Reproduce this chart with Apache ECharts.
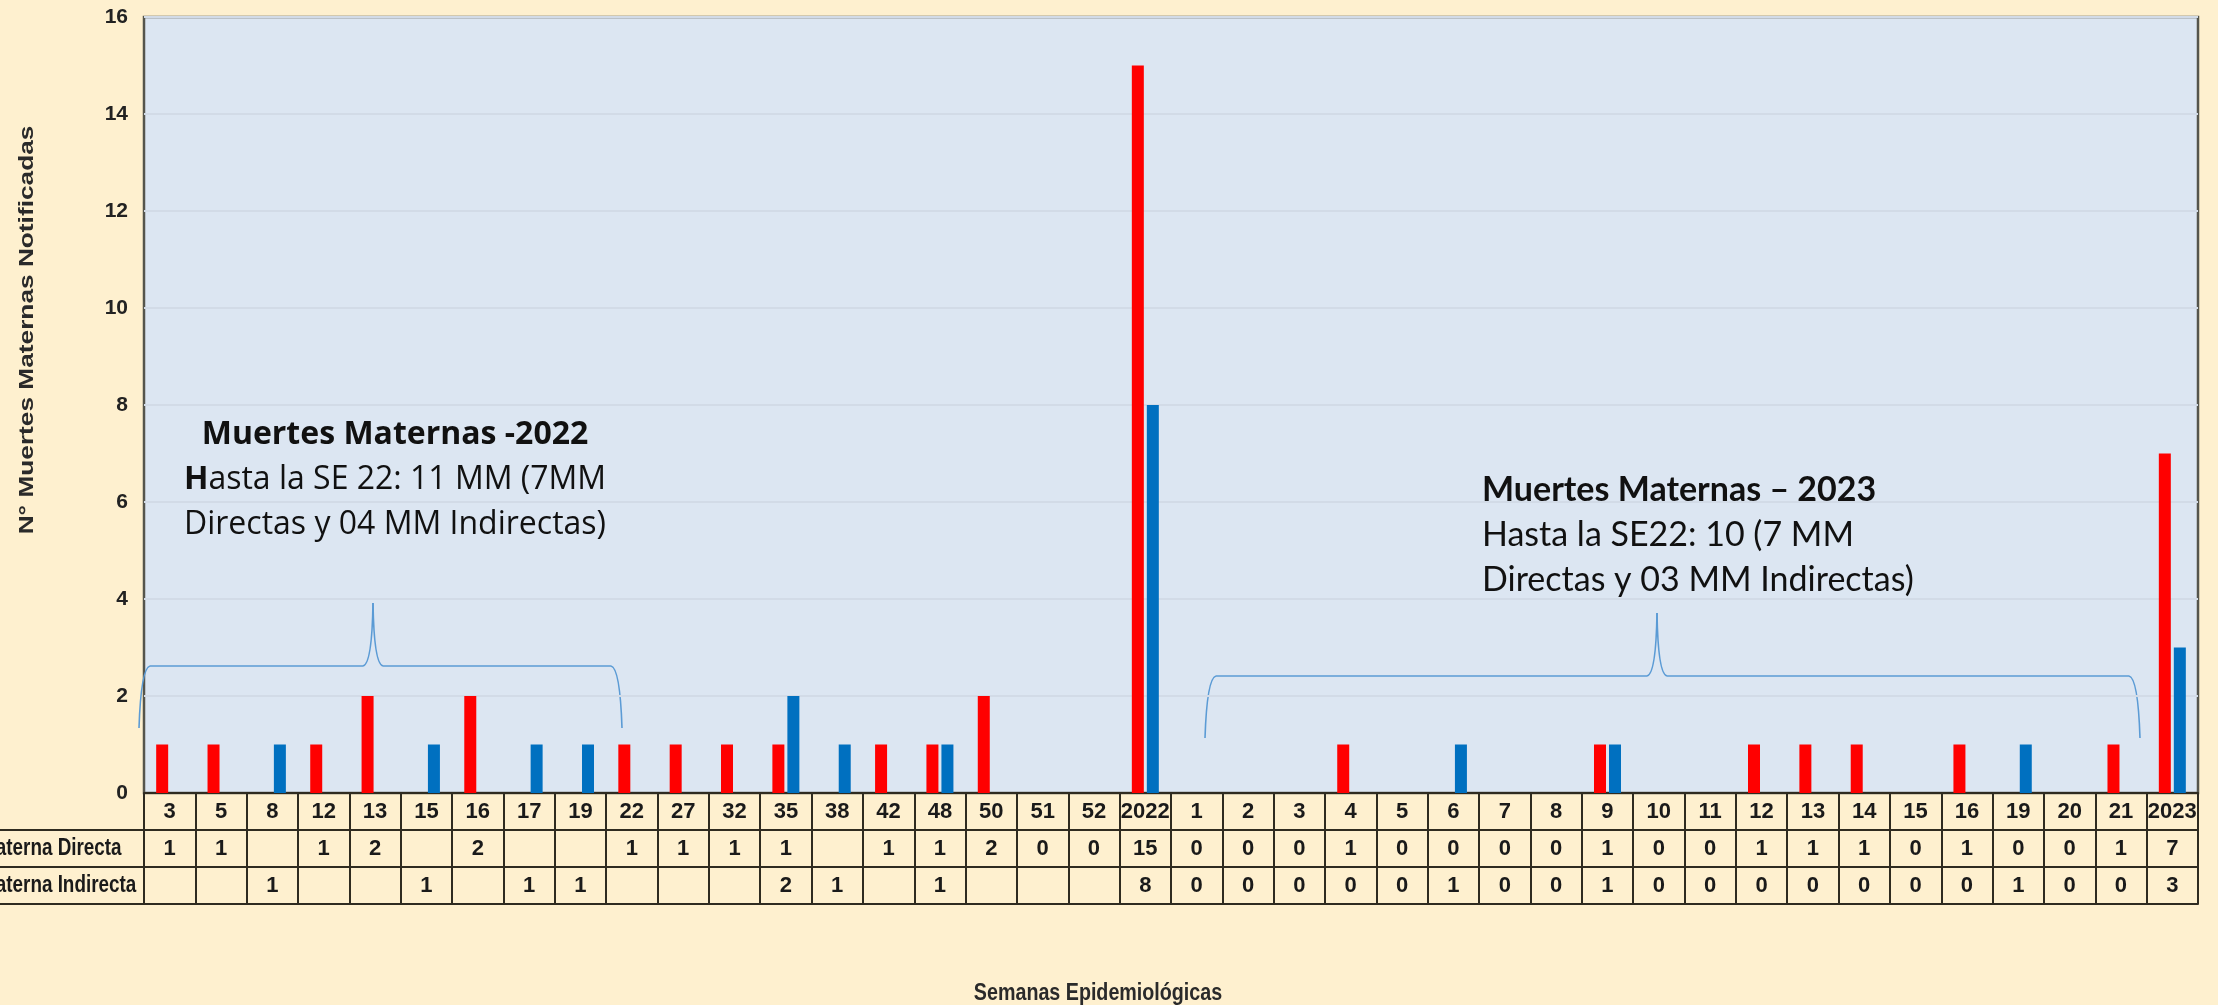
<!DOCTYPE html>
<html>
<head>
<meta charset="utf-8">
<script src="https://cdn.jsdelivr.net/npm/echarts@6/dist/echarts.min.js"></script>
<style>
  html, body { margin: 0; padding: 0; background: #FEF0CF; }
  #main { width: 2218px; height: 1005px; }
</style>
</head>
<body>
<div id="main"></div>
<script>
// semanas epidemiologicas (2022 y 2023)
let semanas = ['3','5','8','12','13','15','16','17','19','22','27','32','35','38','42','48','50','51','52','2022',
               '1','2','3','4','5','6','7','8','9','10','11','12','13','14','15','16','19','20','21','2023'];
// muerte materna directa (null = celda vacia)
let directa = [1,1,null,1,2,null,2,null,null,1,1,1,1,null,1,1,2,0,0,15,
               0,0,0,1,0,0,0,0,1,0,0,1,1,1,0,1,0,0,1,7];
// muerte materna indirecta
let indirecta = [null,null,1,null,null,1,null,1,1,null,null,null,2,1,null,1,null,null,null,8,
                 0,0,0,0,0,1,0,0,1,0,0,0,0,0,0,0,1,0,0,3];
let filas = ['Muerte Materna Directa', 'Muerte Materna Indirecta'];
let ticksY = [0, 2, 4, 6, 8, 10, 12, 14, 16];

const W = 2218, H = 1005;
const gLeft = 144, gRight = 20, gTop = 17, gBottom = 212;
const rowH = 37;
const axisY = H - gBottom;
const lineCol = '#2f2b20';
const arial = "'Liberation Sans', Arial, sans-serif";

function tableAxis(idx, values, showLabel) {
    return {
        type: 'category',
        gridIndex: 0,
        position: 'bottom',
        offset: rowH * idx,
        data: semanas,
        axisLine: { show: true, lineStyle: { color: lineCol, width: 2 } },
        axisTick: { show: showLabel, interval: 0, length: rowH, lineStyle: { color: lineCol, width: 2 } },
        axisLabel: {
            show: showLabel,
            interval: 0,
            margin: rowH / 2,
            verticalAlign: 'middle',
            fontFamily: arial,
            fontWeight: 'bold',
            fontSize: 22,
            color: '#1a1a1a',
            formatter: function (v, i) {
                if (values === null) return v;
                return values[i] === null ? '' : String(values[i]);
            }
        },
        splitLine: { show: false }
    };
}

// llave decorativa hecha de curvas y lineas
function brace(xl, xr, xt, yb, yh, yt) {
    const st = { stroke: '#5B9BD5', lineWidth: 1.6, fill: null };
    return [
        { type: 'bezierCurve', shape: { x1: xl, y1: yb, x2: xl + 11, y2: yh, cpx1: xl + 2, cpy1: yh + 2 }, style: st },
        { type: 'line', shape: { x1: xl + 11, y1: yh, x2: xt - 10, y2: yh }, style: st },
        { type: 'bezierCurve', shape: { x1: xt - 10, y1: yh, x2: xt, y2: yt, cpx1: xt - 1, cpy1: yh - 2 }, style: st },
        { type: 'bezierCurve', shape: { x1: xt, y1: yt, x2: xt + 10, y2: yh, cpx1: xt + 1, cpy1: yh - 2 }, style: st },
        { type: 'line', shape: { x1: xt + 10, y1: yh, x2: xr - 11, y2: yh }, style: st },
        { type: 'bezierCurve', shape: { x1: xr - 11, y1: yh, x2: xr, y2: yb, cpx1: xr - 2, cpy1: yh + 2 }, style: st }
    ];
}

let mainchart = echarts.init(document.getElementById('main'));

let graphics = [];
// lineas de filas hacia la izquierda
for (let k = 1; k <= 3; k++) {
    graphics.push({
        type: 'line',
        shape: { x1: 0, y1: axisY + rowH * k, x2: gLeft, y2: axisY + rowH * k },
        style: { stroke: lineCol, lineWidth: 2 }
    });
}
// etiquetas de filas (cortadas por el borde)
filas.forEach(function (f, k) {
    graphics.push({
        type: 'text',
        x: -87,
        y: axisY + rowH * (k + 1) + rowH / 2,
        scaleX: 0.82,
        style: {
            text: f, align: 'left', verticalAlign: 'middle',
            fontFamily: arial, fontWeight: 'bold', fontSize: 23, fill: '#1a1a1a'
        }
    });
});
// titulo eje y
graphics.push({
    type: 'text',
    x: 27, y: 330,
    rotation: Math.PI / 2,
    scaleX: 1.25,
    style: {
        text: 'N° Muertes Maternas Notificadas', align: 'center', verticalAlign: 'middle',
        fontFamily: arial, fontWeight: 'bold', fontSize: 21, fill: '#2a2a2a'
    }
});
// titulo eje x
graphics.push({
    type: 'text',
    x: 1098, y: 993,
    scaleX: 0.82,
    style: {
        text: 'Semanas Epidemiológicas', align: 'center', verticalAlign: 'middle',
        fontFamily: arial, fontWeight: 'bold', fontSize: 24, fill: '#2a2a2a'
    }
});
// anotacion 2022
const f1 = "'Open Sans', 'Noto Sans', sans-serif";
[
    { t: '{b|Muertes Maternas -2022}', y: 435 },
    { t: '{b|H}asta la SE 22: 11 MM (7MM', y: 480 },
    { t: 'Directas y 04 MM Indirectas)', y: 525 }
].forEach(function (l) {
    graphics.push({
        type: 'text', x: 395, y: l.y,
        style: {
            text: l.t, align: 'center', verticalAlign: 'middle',
            fontFamily: f1, fontSize: 32, fill: '#111',
            rich: { b: { fontFamily: f1, fontSize: 32, fontWeight: 'bold', fill: '#111' } }
        }
    });
});
// anotacion 2023
const f2 = "Lato, 'Noto Sans', sans-serif";
[
    { t: '{b|Muertes Maternas – 2023}', y: 490 },
    { t: 'Hasta la SE22: 10 (7 MM', y: 535 },
    { t: 'Directas y 03 MM Indirectas)', y: 580 }
].forEach(function (l) {
    graphics.push({
        type: 'text', x: 1482, y: l.y,
        style: {
            text: l.t, align: 'left', verticalAlign: 'middle',
            fontFamily: f2, fontSize: 34, fill: '#111',
            rich: { b: { fontFamily: f2, fontSize: 34, fontWeight: 'bold', fill: '#111' } }
        }
    });
});
// llaves
graphics = graphics.concat(brace(139, 622, 373, 728, 666, 603));
graphics = graphics.concat(brace(1205, 2140, 1657, 738, 676, 613));

let chart_config = {
    backgroundColor: '#FEF0CF',
    animation: false,
    grid: {
        left: gLeft, right: gRight, top: gTop, bottom: gBottom,
        show: true,
        backgroundColor: '#DCE6F2',
        borderColor: '#55554c',
        borderWidth: 2.5
    },
    xAxis: [
        tableAxis(0, null, true),
        tableAxis(1, directa, true),
        tableAxis(2, indirecta, true),
        tableAxis(3, null, false)
    ],
    yAxis: {
        type: 'value',
        min: ticksY[0],
        max: ticksY[ticksY.length - 1],
        interval: 2,
        axisLine: { show: false },
        axisTick: { show: false },
        axisLabel: {
            margin: 16,
            fontFamily: arial,
            fontWeight: 'bold',
            fontSize: 21,
            color: '#222'
        },
        splitLine: { lineStyle: { color: '#D2DBE7', width: 2 } }
    },
    series: [
        {
            name: filas[0],
            type: 'bar',
            xAxisIndex: 0,
            data: directa,
            barWidth: 12,
            barGap: '25%',
            itemStyle: { color: '#FF0000' }
        },
        {
            name: filas[1],
            type: 'bar',
            xAxisIndex: 0,
            data: indirecta,
            barWidth: 12,
            barGap: '25%',
            itemStyle: { color: '#0070C0' }
        }
    ],
    graphic: graphics
};
mainchart.setOption(chart_config);
</script>
</body>
</html>
